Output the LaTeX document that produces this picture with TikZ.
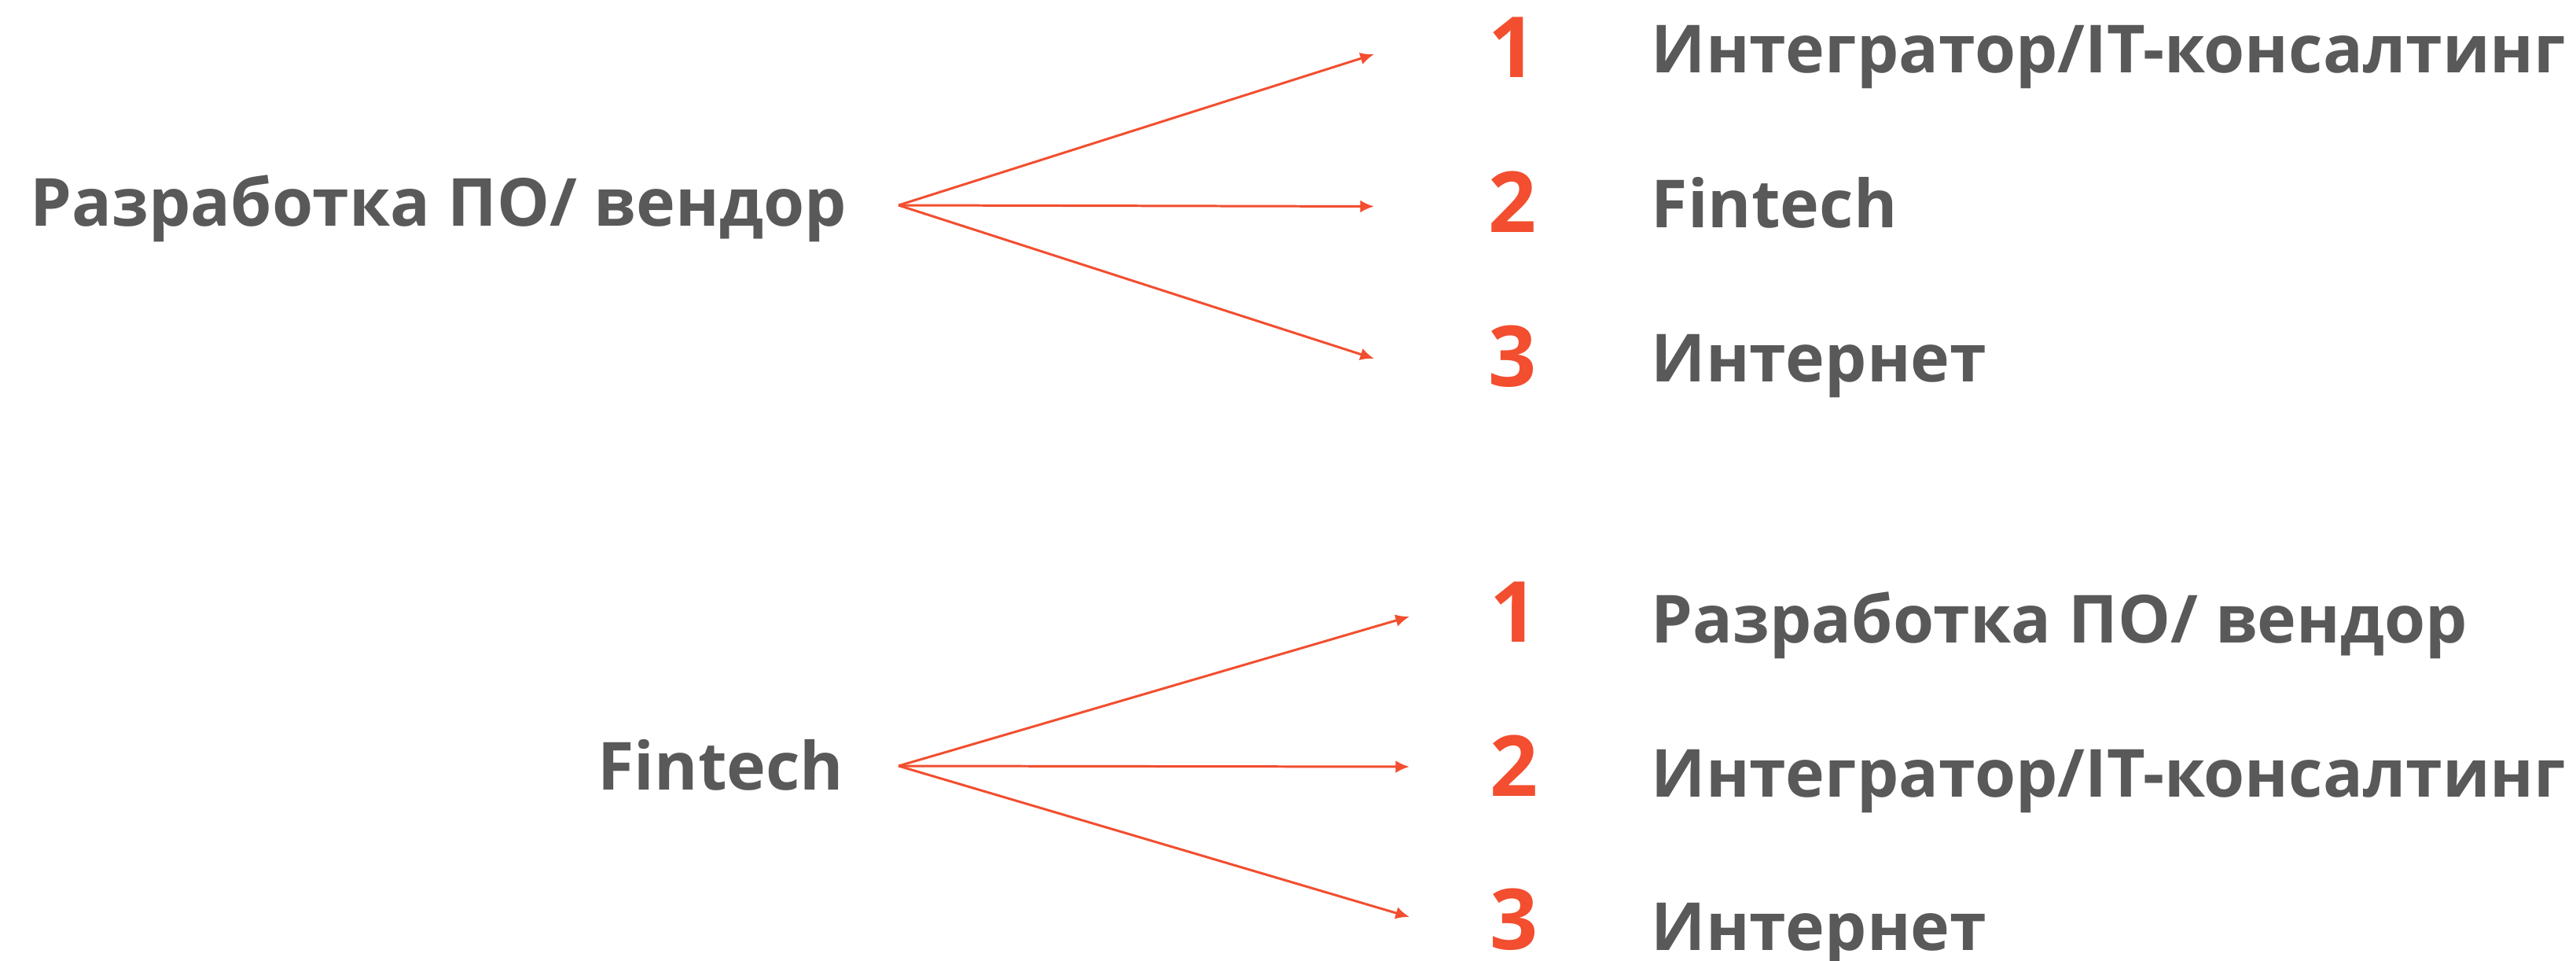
\documentclass[tikz,border=0pt]{standalone}
\usepackage{fontspec}
\setmainfont{Open Sans}
\usetikzlibrary{arrows.meta}
\tikzset{>=latex}
\usepackage{xcolor}
\definecolor{myorange}{HTML}{F24E2F}
\definecolor{mygray}{HTML}{595959}
\tikzstyle{source}=[font=\bfseries\fontsize{24}{28}\selectfont,text=mygray,inner sep=0,anchor=base east]
\tikzstyle{item}=[source,anchor=base west]
\tikzstyle{num}=[font=\bfseries\fontsize{30.5}{35}\selectfont,text=myorange,inner sep=0,anchor=base west]
\tikzstyle{connect}=[myorange,line width=0.85pt,-{Latex[length=5pt,width=4.5pt]}]

\begin{document}
\begin{tikzpicture}
    \useasboundingbox (0,0) rectangle (32.77,-12.22);
    \def\xend{17.48} % arrow tips, upper group
    \def\xendb{17.93} % arrow tips, lower group

    % UPPER GROUP
    \node[source] (srcA) at (10.78,-2.88) {Разработка ПО/ вендор};
    \coordinate (forkA) at (11.43,-2.61);
    \foreach \txt [count=\i, evaluate={\yb=-0.93-1.965*(\i-1); \yn=\yb-0.06; \ya=-0.69-1.935*(\i-1);}] in {Интегратор/IT-консалтинг,Fintech,Интернет}{
        \node[num] (numA-\i) at (18.93,\yn) {\i};
        \node[item] (itemA-\i) at (21.0,\yb) {\txt};
        \coordinate (endA-\i) at (\xend,\ya);
        \draw[connect] (forkA) -- (endA-\i);
    }

    % LOWER GROUP
    \node[source] (srcB) at (10.74,-10.04) {Fintech};
    \coordinate (forkB) at (11.43,-9.74);
    \foreach \txt [count=\i, evaluate={\yb=-8.18-1.95*(\i-1); \yn=\yb+0.01; \ya=-7.84-1.91*(\i-1);}] in {Разработка ПО/ вендор,Интегратор/IT-консалтинг,Интернет}{
        \node[num] (numB-\i) at (18.95,\yn) {\i};
        \node[item] (itemB-\i) at (21.0,\yb) {\txt};
        \coordinate (endB-\i) at (\xendb,\ya);
        \draw[connect] (forkB) -- (endB-\i);
    }
\end{tikzpicture}
\end{document}
